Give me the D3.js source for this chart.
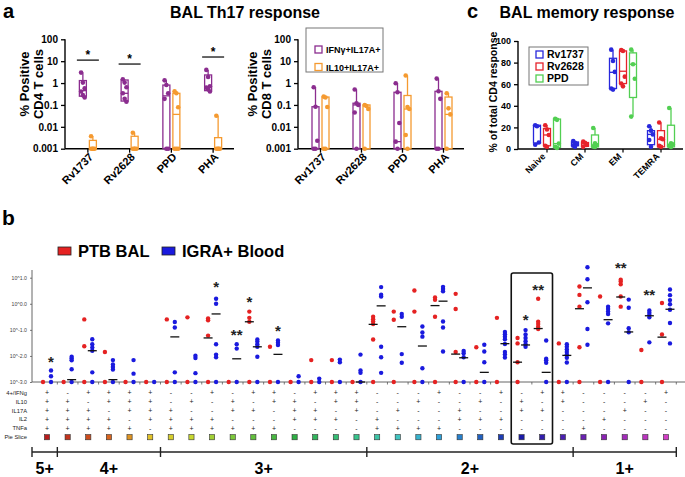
<!DOCTYPE html>
<html>
<head>
<meta charset="utf-8">
<script src="https://cdn.jsdelivr.net/npm/d3@7"></script>
<style>
  body { margin: 0; background: #fff; }
  svg text { font-family: "Liberation Sans", Arial, sans-serif; }
</style>
</head>
<body>
<svg id="fig" width="685" height="477"></svg>
<script>
// ---------- panel a data (values in % positive) ----------
const aCats = ['Rv1737', 'Rv2628', 'PPD', 'PHA'];
const aTicks = [0.001, 0.01, 0.1, 1, 10, 100];
const aTickLabels = ['0.001', '0.01', '0.1', '1', '10', '100'];
// box stats: [min, q1, median, q3, max]
const cd4IfngBox = [[0.22, 0.25, 0.45, 1.3, 3.0], [0.14, 0.15, 0.34, 1.38, 1.48], [0.001, 0.001, 0.26, 0.81, 1.33], [0.41, 0.45, 0.69, 2.35, 4.0]];
const cd4IfngDots = [[3.0, 1.05, 0.58, 0.41, 0.28, 0.22], [1.48, 1.05, 0.64, 0.34, 0.19, 0.14], [1.33, 0.81, 0.34, 0.19, 0.001, 0.001], [4.0, 1.9, 0.72, 0.62, 0.52, 0.41]];
const cd4Il10Box = [[0.001, 0.001, 0.001, 0.0024, 0.0037], [0.001, 0.001, 0.001, 0.0037, 0.0054], [0.001, 0.001, 0.037, 0.34, 0.42], [0.001, 0.001, 0.001, 0.0032, 0.032]];
const cd4Il10Dots = [[0.0037, 0.001, 0.001, 0.001, 0.001], [0.0054, 0.001, 0.001, 0.001, 0.001], [0.42, 0.34, 0.078, 0.001, 0.001, 0.001], [0.032, 0.001, 0.001, 0.001, 0.001]];
const cd8IfngBox = [[0.001, 0.001, 0.001, 0.083, 0.64], [0.001, 0.001, 0.1, 0.12, 0.51], [0.001, 0.001, 0.0021, 0.38, 0.98], [0.001, 0.001, 0.001, 0.42, 1.6]];
const cd8IfngDots = [[0.64, 0.083, 0.0023, 0.001, 0.001], [0.51, 0.12, 0.1, 0.045, 0.001], [0.98, 0.38, 0.015, 0.0021, 0.001], [1.6, 0.42, 0.19, 0.001, 0.001]];
const cd8Il10Box = [[0.001, 0.001, 0.001, 0.23, 0.24], [0.001, 0.001, 0.001, 0.1, 0.1], [0.001, 0.001, 0.065, 0.27, 2.2], [0.001, 0.001, 0.037, 0.23, 0.34]];
const cd8Il10Dots = [[0.24, 0.22, 0.08, 0.001, 0.001], [0.1, 0.09, 0.066, 0.001], [2.2, 0.08, 0.065, 0.0042, 0.001], [0.34, 0.07, 0.037, 0.001]];
// significance bars in the CD4 plot
const aSigCats = ['Rv1737', 'Rv2628', 'PHA'];
const aSigLevel = [11.2, 7.4, 15.5];

// ---------- panel c data (% of total CD4 response) ----------
const cCats = ['Naive', 'CM', 'EM', 'TEMRA'];
const cSeries = ['Rv1737', 'Rv2628', 'PPD'];
const cTicks = [0, 20, 40, 60, 80, 100];
const rv1737Box = [[4, 5.5, 21, 22, 22], [2, 3, 4.6, 6.5, 7.4], [55, 56, 71, 84, 92], [2, 4, 13.5, 17, 21]];
const rv1737Dots = [[22, 21, 6, 4], [7.4, 5.8, 4.6, 3, 2], [92, 81.5, 71.4, 56, 55], [21, 17, 13.5, 8.3, 2]];
const rv2628Box = [[2, 3, 13, 19, 22], [2, 2.5, 4.8, 6, 6.8], [58, 60.6, 72, 90.8, 91.7], [2, 2, 9, 17, 24.6]];
const rv2628Dots = [[22, 18, 13, 3, 2], [6.8, 5.8, 3.7, 2], [91.7, 90.8, 67, 60.6, 58], [24.6, 9.8, 9, 3, 2]];
const ppdBox = [[1, 1.5, 5, 27.7, 28], [1.8, 2, 3.7, 13, 19.4], [30, 47.7, 78.5, 89, 92], [1.8, 2, 4, 22, 38]];
const ppdDots = [[28, 27, 5, 2, 1], [19.4, 5.2, 3.7, 2.2, 1.8], [92, 78.5, 65, 30], [38, 5.2, 4.3, 3, 1.8]];

// ---------- panel b data (log10 values, -3 = none) ----------
const bMarkers = ['4+/IFNg', 'IL10', 'IL17A', 'IL2', 'TNFa'];
const bCombos = ['+++++', '-++++', '+-+++', '++-++', '+++-+', '++++-',
  '--+++', '-+-++', '+--++', '-++-+', '+-+-+', '++--+', '-+++-', '+-++-', '++-+-', '+++--',
  '---++', '--+-+', '-+--+', '+---+', '--++-', '-+-+-', '+--+-', '-++--', '+-+--', '++---',
  '----+', '---+-', '--+--', '-+---', '+----'];
const bGroups = ['5+', '4+', '3+', '2+', '1+'];
const bGroupEnds = [1, 6, 16, 26, 31];
const bTicks = [-3, -2, -1, 0, 1];
const balLog = [
  [-3], [-3], [-3, -1.63, -0.6], [-3, -1.85], [-3], [-3], [-3, -0.6], [-3, -0.52],
  [-3, -1.22, -0.63, -0.56], [-3], [-3, -0.69, -0.54, -0.3], [-3, -1.65], [-3], [-3, -2.16], [-3, -2.16], [-3],
  [-3, -1.37, -0.78, -0.68, -0.59, -0.5], [-3, -0.61, -0.3], [-3, -0.3, 0.51], [-3, -0.5, 0.15, 0.24],
  [-3, -1.85, -0.2, 0.38], [-3, -1.67], [-3, -0.54], [-3, -2.24, -1.52, -1.31], [-0.97, -0.88, -0.78, -0.69, 0.19],
  [-3, -1.52], [-3, -1.67, -0.11, 0.34, 0.66], [-3, 0.28], [-0.11, 0.28, 0.75, 0.85, 0.92], [-3, -1.77], [-3, -1.18, 0.03]
];
const bloodLog = [
  [-3, -2.78, -2.56], [-3, -2.51, -2.17, -2.1, -2.03], [-3, -2.63, -1.8, -1.68, -1.55, -1.36], [-3, -2.52, -2.42, -2.33, -2.16],
  [-3, -2.68, -2.16], [-3], [-3, -2.63, -0.91, -0.7], [-3, -2.66, -2.08, -1.99], [-3, -2.05, -1.95, -1.55, 0, 0.19],
  [-3, -1.72, -1.55], [-3, -2.03, -1.65, -1.55, -1.45, -1.37], [-3, -1.58, -1.49, -1.41], [-3, -2.78], [-3, -2.87],
  [-3, -2.24, -2.14], [-3, -2.65, -2.56, -1.95], [-2.65, -2.05, -1.65, 0.28, 0.35, 0.64], [-2.26, -1.93, -0.5, -0.39],
  [-3, -2.47, -1.26, -1.1, -0.87], [-1.83, -0.91, -0.68, 0.48, 0.57, 0.65], [-3, -2.05, -1.9, -1.81], [-3, -2.24, -1.83, -1.57],
  [-2.06, -1.95, -1.85, -1.54, -1.36, -1.26, -1.17, -1.08], [-1.65, -1.55, -1.44, -1.31, -1.18, -1.01],
  [-3, -2.26, -2.17, -2.11, -1.41], [-3, -2.25, -2.07, -1.95, -1.85, -1.75, -1.65, -1.55], [-1.57, -0.97, 0.06, 0.94, 1.4],
  [-3, -0.75, -0.39, -0.3, -0.2, -0.11], [-3, -1.09, -0.94, -0.15, 0.16], [-1.48, -0.52, -0.43, -0.34, -0.26],
  [-1.52, -0.74, -0.23, -0.02, 0.14, 0.33, 0.55]
];
const balMedian = [null, null, null, null, null, null, null, null, -1.31, null, -0.69, null, null, null, null, null,
  -0.79, null, null, -0.07, -1.93, null, null, -2.24, -0.95, null, -0.19, null, 0.26, null, -1.28];
const bloodMedian = [null, -2.91, -1.8, -2.91, null, null, -1.27, null, -0.39, -2.11, -1.65, -1.94, null, null, null, -3,
  -0.08, -0.88, -1.62, 0.1, -2.07, -2.63, -1.53, -1.58, -2.63, -1.98, 0.61, -0.61, -1.08, -0.46, -0.21];
// [column (1-based), group, label, log10 level]
const bStars = [[1, 'blood', '*', -2.1], [9, 'blood', '*', 0.74], [10, 'blood', '**', -1.1], [11, 'bal', '*', 0.19],
  [12, 'blood', '*', -0.91], [24, 'blood', '*', -0.52], [25, 'bal', '**', 0.66], [29, 'bal', '**', 1.48], [30, 'blood', '**', 0.45]];
const bBoxCols = [24, 25];

// ---------- drawing ----------
const svg = d3.select('#fig');
svg.append('rect').attr('width', 685).attr('height', 477).attr('fill', '#fff');

const purple = '#8b2d8f', orange = '#f59a30';
const cBlue = '#2828dc', cRed = '#e6232b', cGreen = '#52cf52';
const bRed = '#e52222', bBlue = '#1a1ade';

function styleAxis(ax, size) {
  ax.attr('font-family', null).attr('font-size', null);
  ax.selectAll('.domain').remove();
  ax.selectAll('line').attr('stroke', '#000').attr('stroke-width', 1.3);
  ax.selectAll('text').attr('font-size', size).attr('font-weight', 'bold').attr('fill', '#000');
}

function boxPlot(g, cx, w, stats, dots, color, y) {
  const [mn, q1, md, q3, mx] = stats;
  g.append('line').attr('x1', cx).attr('x2', cx).attr('y1', y(mx)).attr('y2', y(q3))
    .attr('stroke', color).attr('stroke-width', 1.3);
  g.append('line').attr('x1', cx).attr('x2', cx).attr('y1', y(q1)).attr('y2', y(mn))
    .attr('stroke', color).attr('stroke-width', 1.3);
  g.append('rect').attr('x', cx - w / 2).attr('y', y(q3)).attr('width', w).attr('height', Math.max(0.5, y(q1) - y(q3)))
    .attr('fill', 'none').attr('stroke', color).attr('stroke-width', 1.3);
  g.append('line').attr('x1', cx - w / 2).attr('x2', cx + w / 2).attr('y1', y(md)).attr('y2', y(md))
    .attr('stroke', color).attr('stroke-width', 1.3);
  g.selectAll(null).data(dots).enter().append('circle')
    .attr('cx', (d, i) => cx + ((i % 3) - 1) * 1.8)
    .attr('cy', d => y(d))
    .attr('r', 2.3)
    .attr('fill', color);
}

// panel labels and titles
svg.append('text').attr('x', 3).attr('y', 18).text('a').attr('font-size', 20).attr('font-weight', 'bold');
svg.append('text').attr('x', 245).attr('y', 18).attr('text-anchor', 'middle').text('BAL Th17 response')
  .attr('font-size', 16).attr('font-weight', 'bold');
svg.append('text').attr('x', 467).attr('y', 18).text('c').attr('font-size', 20).attr('font-weight', 'bold');
svg.append('text').attr('x', 587).attr('y', 18).attr('text-anchor', 'middle').text('BAL memory response')
  .attr('font-size', 16).attr('font-weight', 'bold');
svg.append('text').attr('x', 2).attr('y', 225).text('b').attr('font-size', 21).attr('font-weight', 'bold');

// ----- panel a -----
const ya = d3.scaleLog().domain([0.001, 100]).range([148.7, 39.3]);

function drawTh17(x0, x1, ifngBox, ifngDots, il10Box, il10Dots, cellLine, titleX) {
  const g = svg.append('g');
  const x = d3.scaleBand().domain(aCats).range([x0 + 2, x1]);
  const ax = g.append('g').attr('transform', `translate(${x0},0)`)
    .call(d3.axisLeft(ya).tickValues(aTicks).tickFormat((d, i) => aTickLabels[i]).tickSize(4));
  styleAxis(ax, 10);
  g.append('line').attr('x1', x0).attr('x2', x0).attr('y1', ya(100)).attr('y2', ya(0.001))
    .attr('stroke', '#000').attr('stroke-width', 1.4);
  g.append('line').attr('x1', x0).attr('x2', x1).attr('y1', ya(0.001)).attr('y2', ya(0.001))
    .attr('stroke', '#000').attr('stroke-width', 1.4);
  aCats.forEach((c, i) => {
    const cx = x(c) + x.bandwidth() / 2;
    g.append('line').attr('x1', cx).attr('x2', cx).attr('y1', ya(0.001)).attr('y2', ya(0.001) + 4)
      .attr('stroke', '#000').attr('stroke-width', 1.3);
    boxPlot(g, cx - 5, 7, ifngBox[i], ifngDots[i], purple, ya);
    boxPlot(g, cx + 5, 7, il10Box[i], il10Dots[i], orange, ya);
    g.append('text').attr('transform', `translate(${cx + 6},${ya(0.001) + 9}) rotate(-45)`)
      .attr('text-anchor', 'end').attr('font-size', 11).attr('font-weight', 'bold').text(c);
  });
  const ty = g.append('g').attr('transform', `translate(${titleX},84) rotate(-90)`);
  ty.append('text').attr('text-anchor', 'middle').attr('y', 0).attr('font-size', 13).attr('font-weight', 'bold').text('% Positive');
  ty.append('text').attr('text-anchor', 'middle').attr('y', 14).attr('font-size', 13).attr('font-weight', 'bold').text(cellLine);
  return { g, x };
}

const cd4 = drawTh17(65, 234, cd4IfngBox, cd4IfngDots, cd4Il10Box, cd4Il10Dots, 'CD4 T cells', 29);
aSigCats.forEach((c, i) => {
  const cx = cd4.x(c) + cd4.x.bandwidth() / 2;
  cd4.g.append('line').attr('x1', cx - 11).attr('x2', cx + 11).attr('y1', ya(aSigLevel[i])).attr('y2', ya(aSigLevel[i]))
    .attr('stroke', '#000').attr('stroke-width', 1.2);
  cd4.g.append('text').attr('x', cx).attr('y', ya(aSigLevel[i]) - 1.5).attr('text-anchor', 'middle')
    .attr('font-size', 12).attr('font-weight', 'bold').text('*');
});
const cd8 = drawTh17(298, 464, cd8IfngBox, cd8IfngDots, cd8Il10Box, cd8Il10Dots, 'CD8 T cells', 257);

// legend a
const legA = svg.append('g');
legA.append('rect').attr('x', 306).attr('y', 28).attr('width', 77).attr('height', 44)
  .attr('fill', '#fff').attr('stroke', '#777').attr('stroke-width', 1);
[['IFNγ+IL17A+', purple], ['IL10+IL17A+', orange]].forEach((d, i) => {
  legA.append('rect').attr('x', 315).attr('y', 46 + i * 17.5).attr('width', 7).attr('height', 7)
    .attr('fill', '#fff').attr('stroke', d[1]).attr('stroke-width', 1.3);
  legA.append('text').attr('x', 326).attr('y', 53 + i * 17.5).attr('font-size', 9).attr('font-weight', 'bold').text(d[0]);
});

// ----- panel c -----
const yc = d3.scaleLinear().domain([0, 100]).range([149, 41]);
const xc = d3.scaleBand().domain(cCats).range([528, 680]);
const gc = svg.append('g');
const axc = gc.append('g').attr('transform', 'translate(518,0)')
  .call(d3.axisLeft(yc).tickValues(cTicks).tickSize(4));
styleAxis(axc, 9);
gc.append('line').attr('x1', 518).attr('x2', 518).attr('y1', yc(100)).attr('y2', yc(0)).attr('stroke', '#000').attr('stroke-width', 1.4);
gc.append('line').attr('x1', 518).attr('x2', 683).attr('y1', yc(0)).attr('y2', yc(0)).attr('stroke', '#000').attr('stroke-width', 1.4);
const cBoxes = [rv1737Box, rv2628Box, ppdBox];
const cDots = [rv1737Dots, rv2628Dots, ppdDots];
const cColors = [cBlue, cRed, cGreen];
cCats.forEach((c, i) => {
  const cx = xc(c) + xc.bandwidth() / 2;
  gc.append('line').attr('x1', cx).attr('x2', cx).attr('y1', yc(0)).attr('y2', yc(0) + 3.5)
    .attr('stroke', '#000').attr('stroke-width', 1.2);
  cSeries.forEach((s, k) => {
    boxPlot(gc, cx + (k - 1) * 10, 7, cBoxes[k][i], cDots[k][i], cColors[k], yc);
  });
  gc.append('text').attr('transform', `translate(${cx - 1},${yc(0) + 8}) rotate(-45)`)
    .attr('text-anchor', 'end').attr('font-size', 9).attr('font-weight', 'bold').text(c);
});
gc.append('text').attr('transform', 'translate(497,92) rotate(-90)').attr('text-anchor', 'middle')
  .attr('font-size', 10.5).attr('font-weight', 'bold').text('% of total CD4 response');
const legC = gc.append('g');
legC.append('rect').attr('x', 529).attr('y', 47).attr('width', 59).attr('height', 38)
  .attr('fill', '#fff').attr('stroke', '#777').attr('stroke-width', 1);
cSeries.forEach((s, k) => {
  legC.append('rect').attr('x', 536).attr('y', 51 + k * 12).attr('width', 7).attr('height', 7)
    .attr('fill', '#fff').attr('stroke', cColors[k]).attr('stroke-width', 1.3);
  legC.append('text').attr('x', 547).attr('y', 58 + k * 12).attr('font-size', 10.5).attr('font-weight', 'bold').text(s);
});

// ----- panel b -----
const gb = svg.append('g');
// legend
[['PTB BAL', bRed, 58], ['IGRA+ Blood', bBlue, 162]].forEach(d => {
  gb.append('rect').attr('x', d[2]).attr('y', 247).attr('width', 13).attr('height', 8)
    .attr('fill', d[1]).attr('stroke', '#222').attr('stroke-width', 0.8);
  gb.append('text').attr('x', d[2] + 20).attr('y', 256.5).attr('font-size', 16.5).attr('font-weight', 'bold').text(d[0]);
});

const yb = d3.scaleLinear().domain([-3, 1]).range([382, 277.7]);
const xb = d3.scaleBand().domain(d3.range(31)).range([36.7, 676.3]);
const colX = i => xb(i) + xb.bandwidth() / 2;

const axb = gb.append('g').attr('transform', 'translate(32,0)')
  .call(d3.axisLeft(yb).tickValues(bTicks).tickFormat(d => '10^' + d.toFixed(1)).tickSize(2));
axb.attr('font-family', null).attr('font-size', null);
axb.selectAll('.domain').remove();
axb.selectAll('line').attr('stroke', '#555').attr('stroke-width', 0.8);
axb.selectAll('text').attr('font-size', 5.2).attr('fill', '#444');
gb.append('line').attr('x1', 32).attr('x2', 32).attr('y1', 270).attr('y2', yb(-3)).attr('stroke', '#555').attr('stroke-width', 0.9);
gb.append('line').attr('x1', 32).attr('x2', 685).attr('y1', yb(-3)).attr('y2', yb(-3)).attr('stroke', '#555').attr('stroke-width', 0.9);
d3.range(1, 32).forEach(i => {
  gb.append('line').attr('x1', xb.step() * i + 36.7).attr('x2', xb.step() * i + 36.7)
    .attr('y1', yb(-3)).attr('y2', yb(-3) + 2.5).attr('stroke', '#555').attr('stroke-width', 0.8);
});

// dots
const groups = [['bal', balLog, balMedian, bRed, -4], ['blood', bloodLog, bloodMedian, bBlue, 4]];
groups.forEach(([name, vals, meds, color, off]) => {
  vals.forEach((arr, i) => {
    gb.selectAll(null).data(arr).enter().append('circle')
      .attr('cx', colX(i) + off).attr('cy', d => yb(d)).attr('r', 2.2).attr('fill', color);
    if (meds[i] !== null) {
      gb.append('line').attr('x1', colX(i) + off - 4.5).attr('x2', colX(i) + off + 4.5)
        .attr('y1', yb(meds[i])).attr('y2', yb(meds[i])).attr('stroke', '#111').attr('stroke-width', 1.3);
    }
  });
});
bStars.forEach(([col, grp, lab, lvl]) => {
  const off = grp === 'bal' ? -4 : 4;
  gb.append('text').attr('x', colX(col - 1) + off).attr('y', yb(lvl) + 8).attr('text-anchor', 'middle')
    .attr('font-size', 15).attr('font-weight', 'bold').attr('fill', '#222').text(lab);
});

// table of +/- rows
const rowY = i => 392.7 + i * 8.9;
bMarkers.concat(['Pie Slice']).forEach((m, r) => {
  gb.append('text').attr('x', 27).attr('y', rowY(r)).attr('dy', '0.35em').attr('text-anchor', 'end')
    .attr('font-size', 5.8).attr('fill', '#222').text(m);
});
bCombos.forEach((combo, i) => {
  combo.split('').forEach((s, r) => {
    gb.append('text').attr('x', colX(i)).attr('y', rowY(r)).attr('dy', '0.35em').attr('text-anchor', 'middle')
      .attr('font-size', 7).attr('fill', '#222').text(s);
  });
});
const pieColor = d3.scaleLinear()
  .domain([0, 3, 5, 7, 9, 12, 15, 17, 19, 21, 23, 25, 27, 30])
  .range(['#b81c1c', '#d8641e', '#e2c228', '#c8d830', '#7cc83a', '#2eae44', '#38c48c', '#40c4c0',
    '#2ea0d8', '#2060c0', '#1a1aa8', '#4a20b0', '#8a22b2', '#d23ec6'])
  .interpolate(d3.interpolateRgb);
bCombos.forEach((c, i) => {
  gb.append('rect').attr('x', colX(i) - 2.6).attr('y', rowY(5) - 2.6).attr('width', 5.2).attr('height', 5.2)
    .attr('fill', pieColor(i)).attr('stroke', '#333').attr('stroke-width', 0.6);
});

// highlighted box
gb.append('rect').attr('x', xb(bBoxCols[0] - 1)).attr('y', 273)
  .attr('width', xb(bBoxCols[1] - 1) + xb.bandwidth() - xb(bBoxCols[0] - 1)).attr('height', 171)
  .attr('rx', 2).attr('fill', 'none').attr('stroke', '#111').attr('stroke-width', 1.6);

// group bracket
const bracketY = 452;
const edges = [32].concat(bGroupEnds.map(e => 36.7 + xb.step() * e));
gb.append('line').attr('x1', edges[0]).attr('x2', edges[edges.length - 1]).attr('y1', bracketY).attr('y2', bracketY)
  .attr('stroke', '#222').attr('stroke-width', 1.4);
edges.forEach(e => {
  gb.append('line').attr('x1', e).attr('x2', e).attr('y1', bracketY - 5).attr('y2', bracketY + 5)
    .attr('stroke', '#222').attr('stroke-width', 1.4);
});
bGroups.forEach((lab, i) => {
  gb.append('text').attr('x', (edges[i] + edges[i + 1]) / 2).attr('y', 474).attr('text-anchor', 'middle')
    .attr('font-size', 16).attr('font-weight', 'bold').text(lab);
});
</script>
</body>
</html>
